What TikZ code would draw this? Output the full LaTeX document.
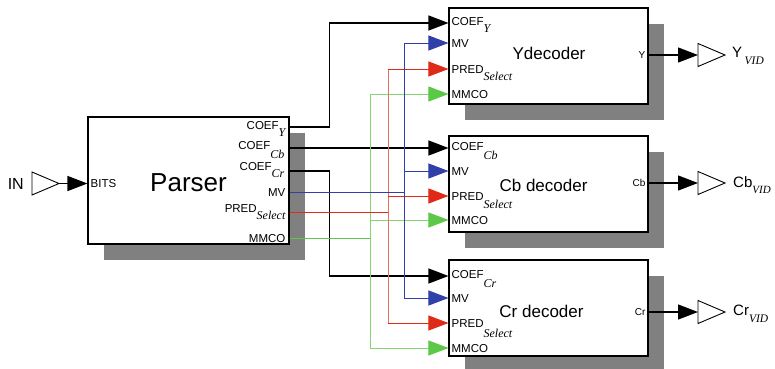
\documentclass[tikz,border=0pt]{standalone}
\usepackage{fontspec}
\setmainfont{Liberation Sans}
\newfontfamily\serifit{Liberation Serif}
\usetikzlibrary{arrows.meta,shadows,calc}
\definecolor{bluec}{RGB}{48,64,168}
\definecolor{redc}{RGB}{222,42,22}
\definecolor{redl}{RGB}{234,110,92}
\definecolor{greenc}{RGB}{92,200,72}
\definecolor{greenl}{RGB}{132,214,112}
\definecolor{shadowc}{RGB}{128,128,128}
\newcommand\lowsub[3][8pt]{\raisebox{-#1}{\fontsize{#2}{14}\selectfont\serifit\itshape #3}}
\begin{document}
\begin{tikzpicture}[x=1pt,y=-1pt,
  blockbox/.style={draw=black, line width=1.1pt, fill=white, inner sep=0pt,
    drop shadow={shadow xshift=16pt, shadow yshift=-16pt, fill=shadowc, opacity=1}},
  titletext/.style={font=\fontsize{17}{20}\selectfont, inner sep=0pt},
  portl/.style={font=\fontsize{11.5}{13}\selectfont, inner sep=0pt},
  outl/.style={font=\fontsize{10}{12}\selectfont, inner sep=0pt},
  vidl/.style={font=\fontsize{15}{18}\selectfont, inner sep=0pt},
  bufline/.style={draw=black, fill=white, line width=0.9pt, line join=miter},
  ktip/.style={-{Triangle[length=20pt,width=15pt,color=black]}},
  btip/.style={-{Triangle[length=20pt,width=15pt,color=bluec]}},
  rtip/.style={-{Triangle[length=20pt,width=15pt,color=redc]}},
  gtip/.style={-{Triangle[length=20pt,width=15pt,color=greenc]}},
  kwire/.style={draw=black, line width=1.2pt},
  bwire/.style={draw=bluec, line width=1pt},
  rwire/.style={draw=redc, line width=1pt},
  rlwire/.style={draw=redl, line width=1pt},
  gwire/.style={draw=greenc, line width=1pt},
  glwire/.style={draw=greenl, line width=1pt}]
\useasboundingbox (0,0) rectangle (775,368);

% blocks
\node[blockbox, minimum width=201pt, minimum height=127pt] (parser) at (188.5,180.5) {};
\node[font=\fontsize{26}{30}\selectfont, inner sep=0pt] (ptitle) at (188.5,183) {Parser};
\node[blockbox, minimum width=199pt, minimum height=96pt] (yd) at (548.5,56) {};
\node[titletext] (ydt) at (549,53) {Ydecoder};
\node[blockbox, minimum width=199pt, minimum height=96pt] (cbd) at (548.5,184) {};
\node[titletext] (cbdt) at (543.5,185) {Cb decoder};
\node[blockbox, minimum width=199pt, minimum height=96pt] (crd) at (548.5,308) {};
\node[titletext] (crdt) at (541.5,311) {Cr decoder};

% buffers (open triangles): base at -w, apex at -e
\foreach \b/\x/\y in {inb/32/183.5, yb/698/55, cbb/698/183, crb/698/312}{
  \coordinate (\b-w) at (\x,\y);
  \coordinate (\b-e) at ($(\b-w)+(27,0)$);
  \path[bufline] ($(\b-w)+(0,-11.5)$) -- (\b-e) -- ($(\b-w)+(0,11.5)$) -- cycle;
}
\node[font=\fontsize{16}{19}\selectfont, inner sep=0pt, anchor=east] (inl) at ($(inb-w)+(-8,0)$) {IN};
\node[vidl, anchor=base west] (ybl) at ($(yb-e)+(7,2)$) {Y\,\lowsub[7pt]{11.5}{VID}};
\node[vidl, anchor=base west] (cbbl) at ($(cbb-e)+(8,4)$) {Cb\lowsub[6pt]{11}{VID}};
\node[vidl, anchor=base west] (crbl) at ($(crb-e)+(8,3)$) {Cr\lowsub[7pt]{11.5}{VID}};

% port coordinates
\coordinate (p-bits) at (parser.west |- inb-w);
\coordinate (p-cy) at (parser.east |- 0,127);
\coordinate (p-ccb) at (parser.east |- 0,148);
\coordinate (p-ccr) at (parser.east |- 0,171);
\coordinate (p-mv) at (parser.east |- 0,192);
\coordinate (p-pred) at (parser.east |- 0,212);
\coordinate (p-mmco) at (parser.east |- 0,238);

\coordinate (yd-coef) at (yd.west |- 0,23);
\coordinate (yd-mv) at (yd.west |- 0,43);
\coordinate (yd-pred) at (yd.west |- 0,69);
\coordinate (yd-mmco) at (yd.west |- 0,94);
\coordinate (cbd-coef) at (cbd.west |- 0,148);
\coordinate (cbd-mv) at (cbd.west |- 0,171);
\coordinate (cbd-pred) at (cbd.west |- 0,196);
\coordinate (cbd-mmco) at (cbd.west |- 0,220);
\coordinate (crd-coef) at (crd.west |- 0,276);
\coordinate (crd-mv) at (crd.west |- 0,298);
\coordinate (crd-pred) at (crd.west |- 0,323);
\coordinate (crd-mmco) at (crd.west |- 0,348);

\coordinate (yd-out) at (yd.east |- yb-w);
\coordinate (cbd-out) at (cbd.east |- cbb-w);
\coordinate (crd-out) at (crd.east |- crb-w);

\coordinate (mvx) at (404,0);
\coordinate (prx) at (388,0);
\coordinate (gx) at (370,0);

% parser labels
\node[portl, anchor=base west] at ($(p-bits)+(3,4)$) {BITS};
\node[portl, anchor=base east] at ($(p-cy)+(-4,2)$) {COEF\lowsub[7pt]{12}{Y}};
\node[portl, anchor=base east] at ($(p-ccb)+(-5,1)$) {COEF\lowsub[9pt]{12}{Cb}};
\node[portl, anchor=base east] at ($(p-ccr)+(-5,-1)$) {COEF\lowsub[7pt]{12}{Cr}};
\node[portl, anchor=base east] at ($(p-mv)+(-4,4)$) {MV};
\node[portl, anchor=base east] at ($(p-pred)+(-4,0)$) {PRED\lowsub[7pt]{12}{Select}};
\node[portl, anchor=base east] at ($(p-mmco)+(-4,4)$) {MMCO};

% decoder labels
\foreach \d/\c/\cs/\ps in {yd/Y/7pt/7pt, cbd/Cb/9pt/8pt, crd/Cr/9pt/10pt}{
  \node[portl, anchor=base west] at ($(\d-coef)+(3,2)$) {COEF\lowsub[\cs]{12}{\c}};
  \node[portl, anchor=base west] at ($(\d-mv)+(3,4)$) {MV};
  \node[portl, anchor=base west] at ($(\d-pred)+(3,4)$) {PRED\lowsub[\ps]{12}{Select}};
  \node[portl, anchor=base west] at ($(\d-mmco)+(3,4)$) {MMCO};
  \node[outl, anchor=east] at ($(\d-out)+(-3,0)$) {\c};
}

% input
\draw[kwire, ktip] (inb-e) -- (p-bits);

% outputs
\draw[kwire, ktip] (yd-out) -- (yb-w);
\draw[kwire, ktip] (cbd-out) -- (cbb-w);
\draw[kwire, ktip] (crd-out) -- (crb-w);

% coefficient wires
\draw[kwire, ktip] (p-cy) -- ++(40,0) |- (yd-coef);
\draw[kwire, ktip] (p-ccb) -- (cbd-coef);
\draw[kwire, ktip] (p-ccr) -- ++(40,0) |- (crd-coef);

% MMCO (green)
\draw[gwire] (p-mmco) -- (p-mmco -| gx);
\draw[glwire] (yd-mmco -| gx) -- (crd-mmco -| gx);
\foreach \d in {yd,cbd,crd}
  \draw[glwire, gtip] (\d-mmco -| gx) -- (\d-mmco);

% PRED (red)
\draw[rwire] (p-pred) -- (p-pred -| prx);
\draw[rlwire] (yd-pred -| prx) -- (crd-pred -| prx);
\foreach \d in {yd,cbd,crd}
  \draw[rwire, rtip] (\d-pred -| prx) -- (\d-pred);

% MV (blue)
\draw[bwire] (p-mv) -- (p-mv -| mvx);
\draw[bwire] (yd-mv -| mvx) -- (crd-mv -| mvx);
\foreach \d in {yd,cbd,crd}
  \draw[bwire, btip] (\d-mv -| mvx) -- (\d-mv);
\end{tikzpicture}
\end{document}
